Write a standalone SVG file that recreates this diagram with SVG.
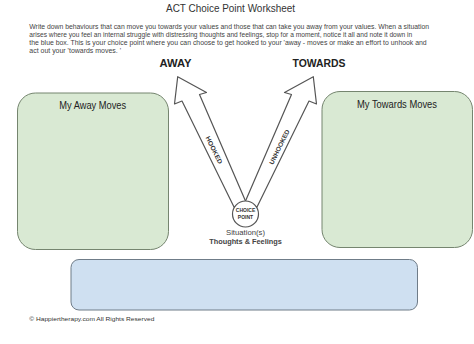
<svg xmlns="http://www.w3.org/2000/svg" width="474" height="344" viewBox="0 0 474 344">
<style>
text{font-family:"Liberation Sans",Arial,sans-serif}
.title{font-size:10.2px;fill:#333;text-anchor:middle}
.para{font-size:6.6px;fill:#444}
.head{font-size:10.8px;font-weight:bold;fill:#222;text-anchor:middle}
.box{stroke:#75856f;stroke-width:1}
.green{fill:#d9e9d3}
.blue{fill:#cfe0f1;stroke:#6f7c88;stroke-width:1}
.lbl{font-size:10.5px;fill:#222;text-anchor:middle}
.arrow{fill:#fff;stroke:#555;stroke-width:1.2;stroke-linejoin:round}
.arrlbl{font-size:6.4px;font-weight:bold;fill:#333;text-anchor:middle}
.cp{font-size:5px;font-weight:bold;fill:#333;text-anchor:middle}
.sit{font-size:7.4px;fill:#444;text-anchor:middle}
.foot{font-size:5.8px;fill:#333}
</style>
<rect width="474" height="344" fill="#fff"/>
<g id="header">
<text class="title" x="230.5" y="12" textLength="129" lengthAdjust="spacingAndGlyphs">ACT Choice Point Worksheet</text>
<text class="para" x="29.3" y="28.6" textLength="399.7" lengthAdjust="spacingAndGlyphs">Write down behaviours that can move you towards your values and those that can take you away from your values. When a situation</text>
<text class="para" x="29.3" y="36.6" textLength="383" lengthAdjust="spacingAndGlyphs">arises where you feel an internal struggle with distressing thoughts and feelings, stop for a moment, notice it all and note it down in</text>
<text class="para" x="29.3" y="44.6" textLength="397.4" lengthAdjust="spacingAndGlyphs">the blue box. This is your choice point where you can choose to get hooked to your 'away - moves or make an effort to unhook and</text>
<text class="para" x="29.3" y="52.6" textLength="91.7" lengthAdjust="spacingAndGlyphs">act out your 'towards moves. '</text>
</g>
<g id="away-label"><text class="head" x="175.5" y="67" textLength="32" lengthAdjust="spacingAndGlyphs">AWAY</text></g>
<g id="towards-label"><text class="head" x="319" y="67" textLength="53" lengthAdjust="spacingAndGlyphs">TOWARDS</text></g>
<g id="away-moves">
<rect class="box green" x="17.5" y="93" width="151" height="156.5" rx="18"/>
<text class="lbl" x="92.7" y="108.5" textLength="67" lengthAdjust="spacingAndGlyphs">My Away Moves</text>
</g>
<g id="towards-moves">
<rect class="box green" x="322" y="91.5" width="150.5" height="156" rx="18"/>
<text class="lbl" x="397" y="107.5" textLength="80" lengthAdjust="spacingAndGlyphs">My Towards Moves</text>
</g>
<g id="connectors">
<path id="hooked-arrow" class="arrow" d="M234,207 L182,101 L174.5,104 L177.7,76.7 L206.5,92.5 L199.5,94.5 L245.5,201 Z"/>
<path id="unhooked-arrow" class="arrow" d="M257,207 L309,101 L316.5,104 L313.3,76.7 L284.5,92.5 L291.5,94.5 L245.5,201 Z"/>
<text class="arrlbl" transform="translate(214,150) rotate(63.8)" y="2.2" textLength="30" lengthAdjust="spacingAndGlyphs">HOOKED</text>
<text class="arrlbl" transform="translate(279.5,147) rotate(-63.8)" y="2.2" textLength="38" lengthAdjust="spacingAndGlyphs">UNHOOKED</text>
</g>
<g id="choice-point">
<circle cx="245.5" cy="214" r="13" fill="#fff" stroke="#555" stroke-width="1.2"/>
<text class="cp" x="245.5" y="212">CHOICE</text>
<text class="cp" x="245.5" y="218.5">POINT</text>
<text class="sit" x="245.5" y="235" textLength="39" lengthAdjust="spacingAndGlyphs">Situation(s)</text>
<text class="sit" x="245.5" y="243.8" font-weight="bold" textLength="72.5" lengthAdjust="spacingAndGlyphs">Thoughts &amp; Feelings</text>
</g>
<g id="situation-box">
<rect class="blue" x="71" y="259.5" width="346.5" height="50.5" rx="8"/>
</g>
<g id="footer">
<text class="foot" x="29.3" y="321" textLength="125" lengthAdjust="spacingAndGlyphs">© Happiertherapy.com All Rights Reserved</text>
</g>
</svg>
